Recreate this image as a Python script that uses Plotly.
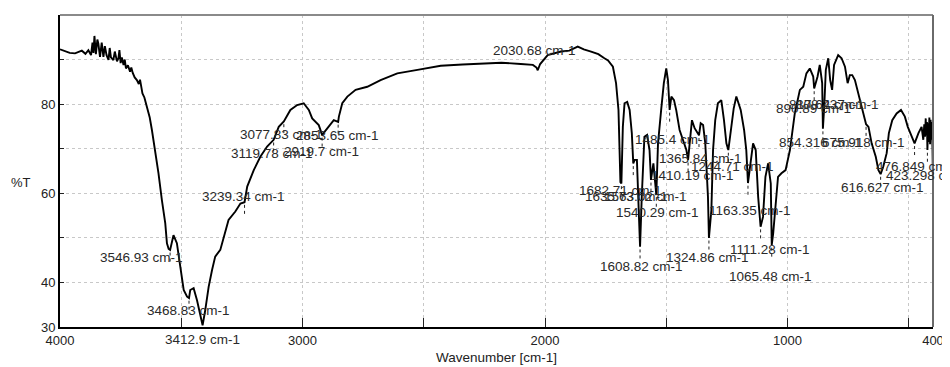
import plotly.graph_objects as go

wavenumber = [4000, 3979, 3960, 3938, 3920, 3910, 3895, 3883, 3872, 3866, 3862, 3858, 3852, 3846, 3842, 3835,
              3828, 3821, 3815, 3808, 3800, 3795, 3790, 3780, 3774, 3770, 3765, 3759, 3755, 3750, 3745, 3738, 3733, 3728,
              3720, 3711, 3706, 3700, 3692, 3683, 3675, 3670, 3660, 3652, 3642, 3635, 3630, 3621, 3607, 3594,
              3580, 3566, 3559, 3552, 3546, 3538, 3532, 3518, 3504, 3490, 3476, 3468, 3463, 3449, 3435,
              3421, 3412, 3401, 3387, 3373, 3360, 3339, 3318, 3305, 3277, 3256, 3239, 3228, 3201, 3174,
              3146, 3119, 3098, 3077, 3050, 3022, 2995, 2974, 2960, 2933, 2919, 2898, 2871, 2853, 2850,
              2836, 2815, 2781, 2733, 2678, 2609, 2526, 2430, 2340, 2264, 2180, 2100, 2050, 2035, 2030,
              2020, 1989, 1934, 1900, 1865, 1840, 1810, 1780, 1755, 1740, 1720, 1707, 1697, 1689, 1685,
              1679, 1672, 1661, 1651, 1642, 1636, 1630, 1621, 1613, 1608, 1601, 1590, 1579, 1569, 1563,
              1553, 1541, 1534, 1521, 1510, 1500, 1493, 1486, 1479, 1468, 1459, 1445, 1431, 1417, 1410,
              1404, 1394, 1383, 1369, 1365, 1358, 1348, 1339, 1328, 1324, 1314, 1307, 1298, 1287, 1273,
              1262, 1252, 1244, 1232, 1222, 1211, 1193, 1179, 1170, 1163, 1152, 1142, 1131, 1121, 1111,
              1101, 1091, 1080, 1069, 1065, 1059, 1050, 1039, 1025, 1008, 990, 970, 949, 935, 922,
              908, 894, 890, 876, 867, 857, 854, 848, 842, 832, 824, 816, 808, 791, 777,
              763, 752, 743, 733, 722, 708, 694, 680, 676, 666, 653, 636, 625, 616, 605,
              591, 582, 568, 550, 532, 516, 504, 488, 476, 460, 447, 440, 436, 433, 430, 428, 425, 423,
              420, 418, 415, 412, 410, 408, 406, 404, 402, 400]
transmittance = [92.3, 91.8, 91.5, 91.4, 91.9, 92.0, 91.3, 92.1, 91.0, 93.8, 91.5, 95.3, 91.2, 94.5, 93.6, 90.6,
                 93.8, 90.6, 93.0, 91.0, 89.9, 92.6, 90.5, 89.9, 91.8, 90.4, 89.6, 90.3, 92.1, 89.2, 90.5, 88.8, 90.0, 88.0,
                 88.7, 87.3, 88.2, 87.0, 86.0, 85.4, 84.5, 85.5, 82.4, 81.5, 79.4, 77.5, 77.0, 74.2, 69.7, 64.5,
                 58.5, 53.3, 48.8, 47.5, 47.3, 49.5, 50.6, 48.8, 43.5, 38.3, 36.8, 36.5, 38.3, 38.7, 36.0,
                 32.3, 30.4, 33.8, 39.0, 42.8, 45.8, 47.3, 51.8, 54.0, 55.9, 57.7, 58.0, 61.5, 65.2, 68.2,
                 70.5, 72.0, 74.9, 76.1, 78.7, 79.8, 80.2, 78.7, 76.8, 75.3, 73.1, 74.6, 76.4, 76.0, 77.2,
                 80.2, 81.7, 83.2, 83.9, 85.4, 86.9, 87.7, 88.6, 88.9, 89.1, 89.3, 89.0, 88.8, 88.2, 87.6,
                 89.0, 91.0, 91.8, 92.0, 92.9, 92.3, 91.8, 91.2, 90.3, 89.8, 88.4, 84.7, 78.7, 62.5, 62.2,
                 74.9, 80.2, 80.5, 78.7, 73.5, 66.7, 67.5, 67.5, 54.7, 48.0, 59.2, 72.7, 73.1, 69.7, 63.0,
                 66.7, 59.6, 71.2, 78.7, 84.7, 88.0, 85.4, 78.7, 81.7, 80.9, 78.7, 74.2, 72.0, 69.7, 67.5,
                 71.2, 76.4, 74.6, 73.5, 73.0, 75.7, 75.3, 71.2, 59.2, 50.0, 56.2, 69.7, 76.4, 80.2, 80.9,
                 76.4, 71.2, 69.7, 75.0, 79.0, 81.7, 78.7, 74.2, 69.7, 62.3, 67.5, 71.2, 69.7, 59.2, 52.5,
                 54.7, 63.7, 66.7, 62.2, 48.4, 51.0, 56.2, 63.7, 64.5, 65.2, 69.7, 77.9, 83.2, 83.9, 86.9,
                 88.0, 86.2, 83.5, 86.2, 88.8, 84.7, 74.5, 80.0, 87.7, 90.3, 85.4, 83.2, 88.8, 91.0, 90.3,
                 88.4, 84.7, 86.5, 86.5, 85.4, 82.4, 79.4, 76.4, 75.5, 74.9, 71.2, 68.2, 65.2, 64.3, 66.0,
                 69.0, 73.5, 76.4, 77.9, 78.7, 77.2, 74.9, 72.7, 71.2, 73.5, 74.9, 72.0, 75.5, 72.7, 76.8, 73.0, 76.0, 69.7,
                 75.7, 71.5, 77.0, 71.0, 76.5, 72.0, 76.0, 74.2, 70.0, 62.2]

# peak labels: text, label left-edge (wavenumber), label centre (%T)
label_texts = ["3546.93 cm-1", "3468.83 cm-1", "3412.9 cm-1", "3239.34 cm-1", "3119.78 cm-1",
               "3077.83 cm-1", "2853.65 cm-1", "2919.7 cm-1", "2030.68 cm-1", "1682.71 cm-1",
               "1635.73 cm-1", "1563.02 cm-1", "1540.29 cm-1", "1608.82 cm-1", "1485.4 cm-1",
               "1410.19 cm-1", "1365.84 cm-1", "1244.71 cm-1", "1163.35 cm-1", "1324.86 cm-1",
               "1111.28 cm-1", "1065.48 cm-1", "890.89 cm-1", "817.64 cm-1", "808.237 cm-1",
               "854.316 cm-1", "675.918 cm-1", "616.627 cm-1", "476.849 cm-1", "423.298 cm-1"]
label_x = [3843, 3649, 3574, 3421, 3302, 3265, 3037, 3083, 2223, 1868,
           1843, 1765, 1715, 1781, 1637, 1570, 1537, 1405, 1331, 1508,
           1244, 1248, 1054, 1004, 975, 1042, 868, 789, 645, 604]
label_y = [45.5, 33.6, 27.1, 59.2, 69.0, 73.3, 72.9, 69.3, 92.1, 60.7,
           59.2, 59.2, 55.8, 43.5, 72.0, 63.9, 67.7, 65.9, 56.2, 45.5,
           47.3, 41.4, 79.1, 80.0, 80.0, 71.3, 71.3, 61.2, 65.9, 64.1]

# peak positions (wavenumber, %T) marked with short dotted ticks
peak_wn = [3546, 3468, 3239, 3119, 3077, 2853, 2919, 1685, 1636, 1608, 1563, 1541, 1486,
           1410, 1365, 1324, 1244, 1163, 1111, 1065, 890, 854, 676, 616, 476, 423]
peak_t = [47.3, 36.5, 58.0, 72.0, 76.1, 76.0, 73.1, 62.2, 66.7, 48.0, 63.0, 59.6, 78.7,
          67.5, 73.0, 50.0, 69.7, 62.3, 52.5, 48.4, 83.5, 74.5, 75.5, 64.3, 71.2, 69.7]

x_tickvals = [4000, 3500, 3000, 2500, 2000, 1500, 1000, 500, 400]
x_ticktext = ["4000", "", "3000", "", "2000", "", "1000", "", "400"]
y_tickvals = [30, 40, 50, 60, 70, 80, 90, 100]
y_ticktext = ["30", "40", "", "60", "", "80", "", "100"]
Y_MIN, Y_MAX = 30, 100

FONT = "Liberation Sans, Arial, sans-serif"

fig = go.Figure()
fig.add_trace(go.Scatter(x=wavenumber, y=transmittance, mode="lines",
                         line=dict(color="black", width=1.9), hoverinfo="skip"))

for wn, t in zip(peak_wn, peak_t):
    fig.add_shape(type="line", x0=wn, x1=wn, y0=t - 0.6, y1=t - 3.0, xref="x", yref="y",
                  line=dict(color="#222", width=1, dash="dot"))

# labels positioned with paper y so ones below the axis range are still drawn
for txt, lx, ly in zip(label_texts, label_x, label_y):
    fig.add_annotation(x=lx, y=(ly - Y_MIN) / (Y_MAX - Y_MIN), xref="x", yref="paper", text=txt,
                       showarrow=False, xanchor="left", yanchor="middle",
                       font=dict(family=FONT, size=13.5, color="#2a2a2a"))

# top and right frame lines in grey
fig.add_shape(type="line", xref="paper", yref="paper", x0=0, x1=1, y0=1, y1=1,
              line=dict(color="#8a8a8a", width=2))
fig.add_shape(type="line", xref="paper", yref="paper", x0=1, x1=1, y0=0, y1=1,
              line=dict(color="#6a6a6a", width=2))

fig.add_annotation(xref="paper", yref="y", x=-0.045, y=62.5, text="%T", showarrow=False,
                   xanchor="center", yanchor="middle",
                   font=dict(family=FONT, size=13, color="#222"))
fig.add_annotation(xref="paper", yref="paper", x=0.5, y=-0.099, text="Wavenumber [cm-1]",
                   showarrow=False, xanchor="center", yanchor="middle",
                   font=dict(family=FONT, size=13.5, color="#222"))

fig.update_xaxes(range=[4000, 400], tickmode="array", tickvals=x_tickvals, ticktext=x_ticktext,
                 ticks="inside", ticklen=9, tickcolor="#222", tickwidth=1,
                 showgrid=True, gridcolor="#c8c8c8", griddash="dot", gridwidth=1,
                 showline=True, linecolor="black", linewidth=2, zeroline=False,
                 tickfont=dict(family=FONT, size=13, color="#222"))
fig.update_yaxes(range=[Y_MIN, Y_MAX], tickmode="array", tickvals=y_tickvals, ticktext=y_ticktext,
                 ticks="inside", ticklen=4, tickcolor="#222", tickwidth=1,
                 showgrid=True, gridcolor="#c8c8c8", griddash="dot", gridwidth=1,
                 showline=True, linecolor="black", linewidth=2, zeroline=False,
                 tickfont=dict(family=FONT, size=13, color="#222"))

# the page body adds an 8px margin, so the figure is sized to fit the 950x367 window
fig.update_layout(width=942, height=359, margin=dict(l=52, r=17, t=7, b=40),
                  plot_bgcolor="white", paper_bgcolor="white", showlegend=False)

fig.write_html("out.html")
